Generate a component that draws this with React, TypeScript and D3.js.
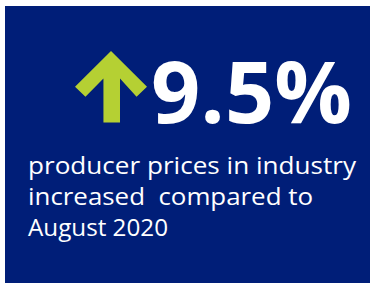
import React, { useEffect, useRef } from "react";
import * as d3 from "d3";

// headline figure and caption lines
const headlineValue = [9.5];
const headlineUnit = ["%"];
const captionLines = [
  "producer prices in industry",
  "increased  compared to",
  "August 2020",
];
const captionWidths = [328, 285, 140];

const App = () => {
  const svgRef = useRef<SVGSVGElement>(null);

  useEffect(() => {
    const svg = d3.select(svgRef.current);
    svg.selectAll("*").remove();

    const width = 371;
    const height = 283;

    // panel
    svg
      .append("rect")
      .attr("x", 5)
      .attr("y", 6)
      .attr("width", width - 6)
      .attr("height", height - 6)
      .attr("fill", "#001e78");

    // up arrow, drawn in a small unit box scaled onto the panel
    const ax = d3.scaleLinear().domain([0, 1]).range([75, 147]);
    const ay = d3.scaleLinear().domain([0, 1]).range([51, 122.5]);
    const arrow = d3.line<[number, number]>()
      .x((d) => ax(d[0]))
      .y((d) => ay(d[1]));
    const pts: [number, number][] = [
      [0.5, 0],
      [1, 0.5],
      [0.855, 0.64],
      [0.625, 0.385],
      [0.625, 1],
      [0.395, 1],
      [0.395, 0.385],
      [0.145, 0.64],
      [0, 0.5],
    ];
    svg
      .append("path")
      .attr("d", arrow(pts) + "Z")
      .attr("fill", "#b5d033");

    // headline number
    svg
      .append("text")
      .attr("x", 151)
      .attr("y", 123)
      .attr("fill", "#fff")
      .attr("font-family", "'Open Sans', sans-serif")
      .attr("font-weight", 700)
      .attr("font-size", 86)
      .attr("textLength", 201)
      .attr("lengthAdjust", "spacingAndGlyphs")
      .text(d3.format(".1f")(headlineValue[0]) + headlineUnit[0]);

    // caption
    svg
      .append("g")
      .selectAll("text")
      .data(captionLines)
      .join("text")
      .attr("x", 28)
      .attr("y", (d, i) => 174 + i * 31)
      .attr("fill", "#fff")
      .attr("font-family", "'Open Sans', sans-serif")
      .attr("font-size", 24.5)
      .attr("textLength", (d, i) => captionWidths[i])
      .attr("lengthAdjust", "spacingAndGlyphs")
      .style("white-space", "pre")
      .text((d) => d);
  }, []);

  return (
    <svg
      ref={svgRef}
      width={371}
      height={283}
      style={{ position: "absolute", left: 0, top: 0, display: "block" }}
    ></svg>
  );
};

export default App;
